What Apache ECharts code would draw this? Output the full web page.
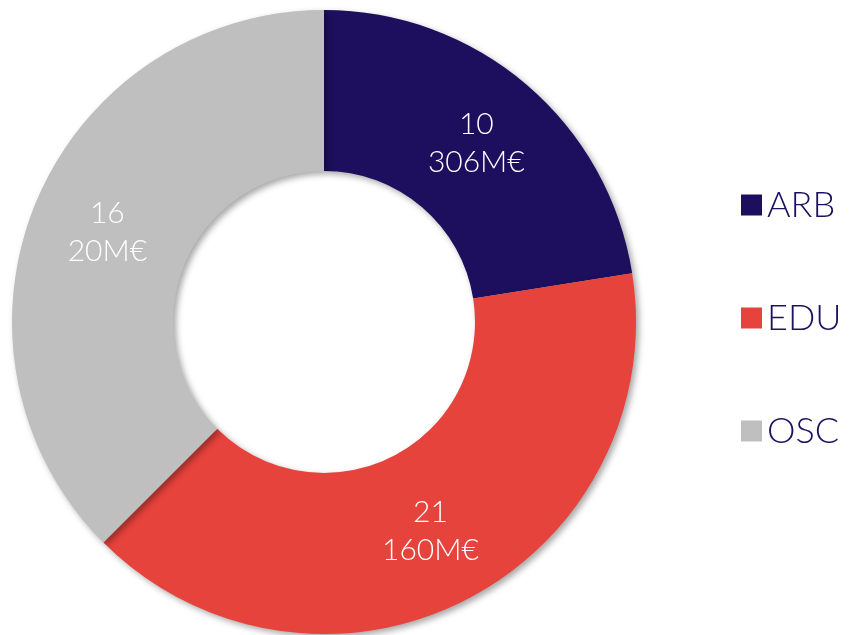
<!DOCTYPE html>
<html>
<head>
<meta charset="utf-8">
<script src="https://cdn.jsdelivr.net/npm/echarts@6/dist/echarts.min.js"></script>
<style>
html,body{margin:0;padding:0;background:#fff;}
#main{width:849px;height:635px;}
</style>
</head>
<body>
<div id="main"></div>
<script>
const categories = ['ARB', 'EDU', 'OSC'];
const shares = [22.5, 40, 37.5];
const counts = [10, 21, 16];
const budgets = ['306M€', '160M€', '20M€'];
const colors = ['#1d0f5e', '#e6433c', '#bfbfbf'];

const chart = echarts.init(document.getElementById('main'));
const data = categories.map((c, i) => ({
  name: c,
  value: shares[i],
  itemStyle: { color: colors[i] },
  label: { formatter: counts[i] + '\n' + budgets[i] }
}));
chart.setOption({
  animation: false,
  legend: {
    orient: 'vertical',
    left: 736,
    top: 180,
    icon: 'rect',
    itemWidth: 21,
    itemHeight: 21,
    itemGap: 73,
    data: categories,
    textStyle: {
      fontFamily: 'Lato',
      fontWeight: 300,
      fontSize: 36,
      lineHeight: 40,
      color: '#1e1060',
      padding: [0, 0, 0, 0]
    }
  },
  series: [{
    type: 'pie',
    center: [324, 322],
    radius: [151, 312],
    startAngle: 90,
    clockwise: true,
    avoidLabelOverlap: false,
    itemStyle: {
      shadowBlur: 6,
      shadowOffsetX: 3,
      shadowOffsetY: 3,
      shadowColor: 'rgba(0,0,0,0.35)'
    },
    label: {
      show: true,
      position: 'inside',
      color: '#ffffff',
      fontFamily: 'Lato',
      fontWeight: 300,
      fontSize: 30,
      lineHeight: 38,
      textBorderWidth: 0
    },
    labelLine: { show: false },
    emphasis: { disabled: true },
    data: data
  }]
});
</script>
</body>
</html>
